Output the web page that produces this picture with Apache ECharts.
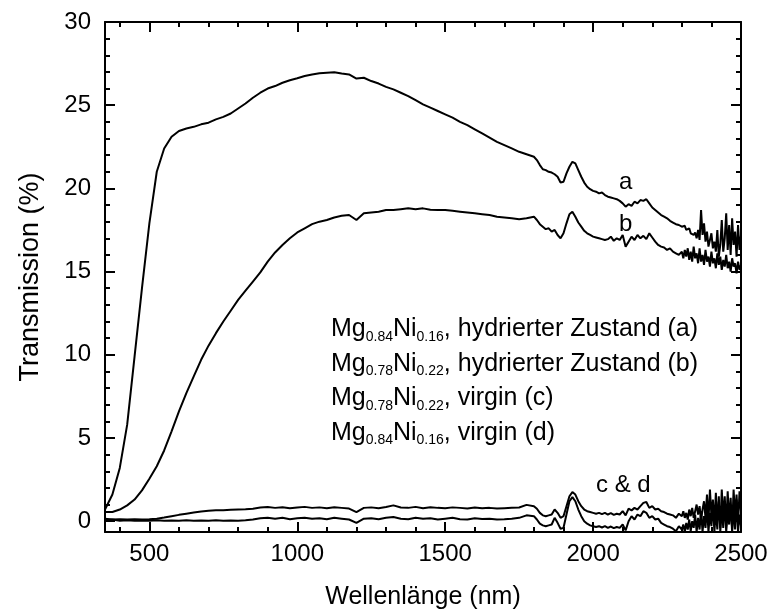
<!DOCTYPE html>
<html>
<head>
<meta charset="utf-8">
<script src="https://cdn.jsdelivr.net/npm/echarts@6/dist/echarts.min.js"></script>
<style>
html,body{margin:0;padding:0;background:#fff;}
#chart{width:775px;height:615px;}
</style>
</head>
<body>
<div id="chart"></div>
<script>
// Wavelength grid (nm)
const wavelength = [
350,375,400,425,450,475,500,525,550,575,600,625,650,675,700,725,750,775,800,825,850,875,900,925,950,975,
1000,1025,1050,1075,1100,1125,1150,1175,1200,1225,1250,1275,1300,1325,1350,1375,1400,1425,1450,1475,
1500,1525,1550,1575,1600,1625,1650,1675,1700,1725,1750,1775,
1800,1810,1820,1830,1840,1850,1860,1870,1880,1890,1900,1910,1920,1930,1940,1950,1960,1970,1980,1990,
2000,2010,2020,2030,2040,2050,2060,2070,2080,2090,2100,2110,2120,2130,2140,2150,2160,2170,2180,2190,
2200,2210,2220,2230,2240,2250,2260,2270,2280,2290,
2300,2305,2310,2315,2320,2325,2330,2335,2340,2345,2350,2355,2360,2365,2370,2375,2380,2385,2390,2395,
2400,2405,2410,2415,2420,2425,2430,2435,2440,2445,2450,2455,2460,2465,2470,2475,2480,2485,2490,2495,2500
];

// (a) Mg0.84Ni0.16 hydrated
const seriesA = [
0.7,1.6,3.2,5.8,9.9,14.0,17.9,21.0,22.4,23.1,23.45,23.6,23.7,23.85,23.95,24.15,24.3,24.5,24.8,25.1,25.45,25.75,26.0,26.15,26.35,26.5,
26.62,26.75,26.85,26.92,26.95,26.98,26.9,26.85,26.6,26.65,26.45,26.3,26.1,25.95,25.75,25.55,25.3,25.05,24.85,24.65,
24.45,24.25,24.0,23.8,23.55,23.3,23.05,22.8,22.6,22.4,22.2,22.05,
21.9,21.7,21.4,21.15,21.1,21.0,20.95,20.85,20.7,20.35,20.4,20.9,21.3,21.6,21.5,21.1,20.7,20.35,20.1,19.95,
19.85,19.8,19.7,19.75,19.6,19.5,19.45,19.4,19.35,19.25,19.1,18.9,19.05,18.95,19.2,19.1,19.3,19.25,19.35,19.1,
18.85,18.7,18.55,18.4,18.3,18.2,18.05,17.95,17.85,17.8,
17.7,17.6,17.75,17.5,17.45,17.6,17.3,17.4,17.2,17.35,17.0,17.5,16.9,18.7,17.2,17.9,16.8,17.4,16.5,16.9,
17.3,16.4,16.8,16.2,17.5,15.9,16.6,18.1,16.2,17.0,18.5,16.3,17.8,16.0,18.2,16.6,17.4,15.9,17.8,16.3,17.2
];

// (b) Mg0.78Ni0.22 hydrated
const seriesB = [
0.55,0.55,0.7,0.95,1.3,1.85,2.55,3.3,4.25,5.4,6.6,7.7,8.7,9.7,10.55,11.3,12.0,12.65,13.3,13.85,14.4,14.95,15.6,16.15,16.6,17.0,
17.35,17.6,17.85,18.0,18.1,18.25,18.35,18.4,18.1,18.5,18.55,18.6,18.7,18.7,18.75,18.8,18.75,18.8,18.72,18.7,
18.7,18.65,18.6,18.55,18.5,18.45,18.4,18.3,18.25,18.2,18.15,18.2,
18.3,18.1,17.85,17.7,17.55,17.6,17.4,17.5,17.2,17.0,17.3,17.9,18.45,18.6,18.3,17.95,17.7,17.45,17.3,17.2,
17.1,17.05,17.0,16.95,16.9,16.95,17.1,16.85,17.0,16.9,17.2,16.5,16.8,17.1,16.9,17.2,17.0,17.15,16.95,17.3,
17.05,16.8,16.6,16.5,16.45,16.3,16.4,16.2,16.1,16.0,
16.2,15.8,16.3,15.9,16.4,15.7,16.2,15.6,16.5,15.8,16.1,15.5,16.4,15.6,16.0,15.4,16.3,15.6,15.9,15.3,
16.2,15.5,15.8,15.2,16.1,15.4,15.9,15.1,15.7,15.3,16.0,15.2,15.6,15.0,15.8,15.3,15.5,14.9,15.6,15.1,15.4
];

// (c) Mg0.78Ni0.22 virgin
const seriesC = [
0.15,0.1,0.12,0.1,0.12,0.1,0.12,0.15,0.22,0.3,0.38,0.45,0.52,0.58,0.62,0.65,0.66,0.68,0.7,0.72,0.75,0.82,0.85,0.8,0.84,0.78,
0.82,0.86,0.8,0.83,0.78,0.84,0.8,0.76,0.55,0.8,0.83,0.78,0.85,0.95,0.82,0.8,0.86,0.78,0.84,0.8,
0.78,0.83,0.8,0.76,0.82,0.78,0.8,0.76,0.78,0.8,0.82,0.98,
0.9,0.75,0.5,0.35,0.3,0.35,0.4,0.7,0.5,0.2,0.3,0.9,1.5,1.75,1.6,1.2,0.9,0.7,0.6,0.55,
0.5,0.45,0.5,0.42,0.5,0.4,0.48,0.38,0.45,0.4,0.6,0.35,0.75,0.65,0.8,0.7,0.9,1.1,1.15,0.8,
0.9,0.7,0.75,0.6,0.55,0.45,0.4,0.35,0.2,0.45,
0.3,0.6,0.2,0.5,0.1,0.7,0.3,0.8,0.2,0.6,1.0,0.4,0.9,0.1,0.7,1.2,0.2,1.6,0.0,1.9,
0.3,1.3,-0.2,1.7,0.1,1.2,-0.4,1.9,0.2,1.5,-0.3,1.8,0.0,1.4,-0.5,1.9,0.3,1.6,-0.2,1.8,0.6
];

// (d) Mg0.84Ni0.16 virgin
const seriesD = [
0.05,0.1,0.03,0.05,0.02,0.04,0.03,0.05,0.02,0.04,0.03,0.05,0.02,0.04,0.03,0.05,0.02,0.04,0.03,0.05,0.1,0.18,0.2,0.15,0.2,0.12,
0.18,0.2,0.14,0.18,0.12,0.2,0.15,0.1,-0.1,0.15,0.18,0.12,0.2,0.25,0.15,0.12,0.2,0.14,0.18,0.1,
0.15,0.2,0.12,0.1,0.18,0.13,0.15,0.1,0.12,0.15,0.2,0.35,
0.3,0.1,-0.15,-0.25,-0.3,-0.25,-0.2,0.2,-0.1,-0.45,-0.4,0.4,1.2,1.45,1.2,0.7,0.3,0.0,-0.15,-0.25,
-0.3,-0.35,-0.3,-0.38,-0.3,-0.4,-0.32,-0.42,-0.35,-0.4,-0.2,-0.55,0.0,0.3,0.1,0.4,0.3,0.6,0.5,0.2,
0.3,0.1,0.15,-0.1,-0.2,-0.3,-0.35,-0.45,-0.6,-0.3,
-0.5,-0.2,-0.65,-0.1,-0.5,0.1,-0.6,0.0,-0.4,0.4,-0.65,0.2,-0.5,0.6,-0.65,0.3,-0.4,0.9,-0.65,0.5,
-0.3,1.1,-0.65,0.6,-0.5,1.5,-0.65,0.8,-0.4,1.2,-0.65,0.5,-0.2,1.0,-0.65,0.7,-0.5,1.3,-0.65,0.4,-0.3
];

const xMajor = [500,1000,1500,2000,2500];
const xMinor = [400,600,700,800,900,1100,1200,1300,1400,1600,1700,1800,1900,2100,2200,2300,2400];
const yMajor = [0,5,10,15,20,25,30];
const yMinor = [1,2,3,4,6,7,8,9,11,12,13,14,16,17,18,19,21,22,23,24,26,27,28,29];

const legendLines = [
  ['0.84','0.16','hydrierter Zustand (a)'],
  ['0.78','0.22','hydrierter Zustand (b)'],
  ['0.78','0.22','virgin (c)'],
  ['0.84','0.16','virgin (d)']
];

const FONT = '"Liberation Sans", Arial, Helvetica, sans-serif';
const X_MIN = 350, X_MAX = 2500, Y_MIN = -0.65, Y_MAX = 30;
const plain = v => String(v);

function xAx(pos, vals, len, showLine, label, name) {
  return {
    type: 'value', position: pos, min: X_MIN, max: X_MAX,
    axisLine: {show: showLine, onZero: false, lineStyle: {color: '#000', width: 2}},
    axisTick: {show: true, inside: true, length: len, customValues: vals, lineStyle: {color: '#000', width: 2}},
    axisLabel: label ? {show: true, customValues: vals, formatter: plain, fontSize: 24, color: '#000', fontFamily: FONT, margin: 10} : {show: false},
    splitLine: {show: false},
    name: name || '', nameLocation: 'middle', nameGap: 53,
    nameTextStyle: {fontSize: 25, color: '#000', fontFamily: FONT}
  };
}
function yAx(pos, vals, len, showLine, label, name) {
  return {
    type: 'value', position: pos, min: Y_MIN, max: Y_MAX,
    axisLine: {show: showLine, onZero: false, lineStyle: {color: '#000', width: 2}},
    axisTick: {show: true, inside: true, length: len, customValues: vals, lineStyle: {color: '#000', width: 2}},
    axisLabel: label ? {show: true, customValues: vals, formatter: plain, fontSize: 24, color: '#000', fontFamily: FONT, margin: 14} : {show: false},
    splitLine: {show: false},
    name: name || '', nameLocation: 'middle', nameGap: 61,
    nameTextStyle: {fontSize: 27, color: '#000', fontFamily: FONT}
  };
}

function mkSeries(vals) {
  return {
    type: 'line', xAxisIndex: 0, yAxisIndex: 0, showSymbol: false, symbol: 'none',
    data: wavelength.map((w, i) => [w, vals[i]]),
    lineStyle: {color: '#000', width: 2}, clip: true, silent: true
  };
}

const rich = {
  m: {fontSize: 25, fontFamily: FONT, color: '#000', lineHeight: 34.5},
  s: {fontSize: 14, fontFamily: FONT, color: '#000', lineHeight: 34.5, padding: [15, 0, 0, 0]}
};
const legendText = legendLines.map(l => '{m|Mg}{s|' + l[0] + '}{m|Ni}{s|' + l[1] + '}{m|, ' + l[2] + '}').join('\n');

const chart = echarts.init(document.getElementById('chart'), null, {renderer: 'canvas'});
chart.setOption({
  animation: false,
  backgroundColor: '#fff',
  grid: {left: 105, right: 34, top: 22, bottom: 82, containLabel: false},
  xAxis: [
    xAx('bottom', xMajor, 10, true, true, 'Wellenlänge (nm)'),
    xAx('bottom', xMinor, 5, false, false),
    xAx('top', xMajor, 10, true, false),
    xAx('top', xMinor, 5, false, false)
  ],
  yAxis: [
    yAx('left', yMajor, 10, true, true, 'Transmission (%)'),
    yAx('left', yMinor, 5, false, false),
    yAx('right', yMajor, 10, true, false),
    yAx('right', yMinor, 5, false, false)
  ],
  series: [mkSeries(seriesA), mkSeries(seriesB), mkSeries(seriesC), mkSeries(seriesD)],
  graphic: [
    {type: 'text', left: 331, top: 315, style: {text: legendText, rich: rich, fill: '#000'}},
    {type: 'text', left: 619, top: 170, style: {text: 'a', fontSize: 24, fontFamily: FONT, fill: '#000'}},
    {type: 'text', left: 619, top: 212, style: {text: 'b', fontSize: 24, fontFamily: FONT, fill: '#000'}},
    {type: 'text', left: 596, top: 473, style: {text: 'c & d', fontSize: 24, fontFamily: FONT, fill: '#000'}}
  ]
});
</script>
</body>
</html>
